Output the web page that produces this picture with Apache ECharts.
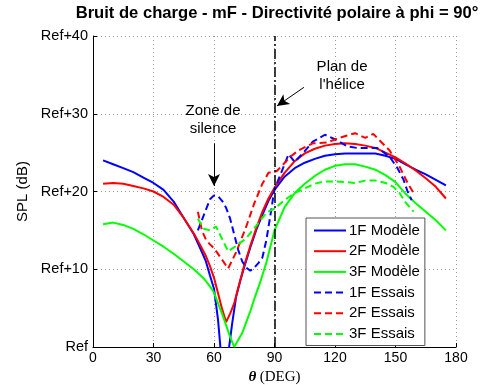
<!DOCTYPE html>
<html><head><meta charset="utf-8">
<script src="https://cdn.jsdelivr.net/npm/echarts@6/dist/echarts.min.js"></script>
<style>html,body{margin:0;padding:0;background:#fff}#c{width:483px;height:385px}</style>
</head><body><div id="c"></div><script>
// ---- data ----
var xTicks = [0, 30, 60, 90, 120, 150, 180];
var yTickLabels = ['Ref', 'Ref+10', 'Ref+20', 'Ref+30', 'Ref+40'];

var theta1FModele = [5,10,15,20,25,30,35,40,45,50,53,56,58,60,61,62,63,64,66,67.5,69,71,73,75,78,81,84,87,90,95,100,105,110,115,120,125,130,135,140,145,150,155,160,165,170,175];
var spl1FModele   = [24.0,23.5,23.0,22.5,21.8,21.1,20.2,18.7,16.6,14.5,12.8,11.0,9.2,7.5,5.5,3.5,0.5,-3,-3,0,3,6.5,8.5,10.3,12.8,15.1,17.0,18.8,20.2,21.9,23.0,23.7,24.2,24.6,24.8,24.9,24.9,24.9,24.9,24.6,24.2,23.5,22.8,22.2,21.5,20.8];

var theta2FModele = [5,10,15,20,25,30,35,40,45,50,53,56,58,60,62,64,66,68,70,72,75,78,81,84,87,90,95,100,105,110,115,120,125,130,135,140,145,150,155,160,165,170,175];
var spl2FModele   = [21.0,21.1,21.0,20.7,20.4,20.0,19.3,18.3,16.6,14.6,13.2,11.7,10.4,8.9,6.9,4.9,3.2,4.3,5.6,7.6,10.5,13.0,15.3,17.4,19.1,20.5,22.4,23.9,24.9,25.5,25.9,26.1,26.2,26.1,25.9,25.6,25.0,24.4,23.6,22.7,21.7,20.6,19.1];

var theta3FModele = [5,10,15,20,25,30,35,40,45,50,55,58,60,62,64,66,68,70,72,74,76,78,80,83,86,90,95,100,105,110,115,120,125,130,135,140,145,150,155,160,165,170,175];
var spl3FModele   = [15.8,16.0,15.7,15.2,14.5,13.7,12.9,12.0,11.0,10.0,8.8,7.8,7.0,5.6,4.3,2.8,1.3,0.0,0.9,1.8,3.2,4.6,6.2,8.4,10.9,15.0,18.0,19.8,21.0,22.0,22.8,23.3,23.5,23.5,23.2,22.8,22.1,21.2,19.7,18.5,17.4,16.3,15.0];

var theta1FEssais = [52,55,58,60,62,64,66,68,70,72,74,76,78,80,82,84,86,88,90,93,97,100,104,109,115,121,126,131,136,141,147,151,154,156,158];
var spl1FEssais   = [15.0,17.0,19.0,19.5,19.4,18.8,17.9,16.5,14.5,12.5,11.0,10.2,9.8,10.2,10.8,11.5,13.8,17.0,20.3,22.2,24.8,23.8,24.9,26.4,27.3,26.6,25.8,25.6,25.6,25.6,24.5,23.0,21.5,20.0,18.9];

var theta2FEssais = [52,54,56,58,60,63,67,71,76,80,84,87,91,94,98,102,109,116,121,126,130,135,139,142,147,152,156,159];
var spl2FEssais   = [17.4,15.0,13.8,13.2,12.7,11.6,10.1,12.2,15.5,18.5,21.0,22.4,22.6,23.4,24.5,25.3,26.2,26.3,26.8,27.2,27.5,26.9,27.4,26.6,25.3,23.2,21.1,19.8];

var theta3FEssais = [52,55,58,61,64,67,71,76,81,86,90,95,100,105,110,115,121,126,130,135,140,145,149,152,155,159];
var spl3FEssais   = [16.5,15.2,15.0,15.5,13.9,12.3,13.0,14.0,15.6,17.3,17.8,18.9,19.8,20.4,21.0,21.3,21.3,21.2,21.1,21.4,21.4,21.1,20.6,19.8,18.6,17.4];

var names = ['1F Modèle','2F Modèle','3F Modèle','1F Essais','2F Essais','3F Essais'];
var colors = ['#0000ff','#ff0000','#00ff00','#0000ff','#ff0000','#00ff00'];
var thetas = [theta1FModele, theta2FModele, theta3FModele, theta1FEssais, theta2FEssais, theta3FEssais];
var spls = [spl1FModele, spl2FModele, spl3FModele, spl1FEssais, spl2FEssais, spl3FEssais];

function pairs(xs, ys) { return xs.map(function (x, i) { return [x, ys[i]]; }); }

var FONT = 'Liberation Sans, Arial, sans-serif';
var chart = echarts.init(document.getElementById('c'), null, {renderer: 'canvas'});

var series = names.map(function (n, i) {
  return {
    name: n, type: 'line', data: pairs(thetas[i], spls[i]),
    symbol: 'none', clip: true, z: 3,
    lineStyle: {color: colors[i], width: 2, type: i >= 3 ? [7, 4] : 'solid'},
    itemStyle: {color: colors[i]}
  };
});

series.push({
  name: 'annot', type: 'line', data: [], silent: true, z: 4,
  markLine: {
    silent: true, animation: false, symbol: 'none',
    label: {show: false},
    data: [
      [{coord: [90, 0], lineStyle: {color: '#000', width: 1.5, type: [10, 3, 2, 3]}}, {coord: [90, 40]}],
      [{coord: [60, 26.2], symbol: 'none', lineStyle: {color: '#000', width: 1, type: 'solid'}}, {coord: [60, 20.7], symbol: 'arrow', symbolSize: [9, 12]}],
      [{coord: [104.6, 33.4], symbol: 'none', lineStyle: {color: '#000', width: 1, type: 'solid'}}, {coord: [91.2, 31.0], symbol: 'arrow', symbolSize: [9, 12]}]
    ]
  }
});

chart.setOption({
  animation: false,
  backgroundColor: '#fff',
  title: {
    text: 'Bruit de charge - mF - Directivité polaire à phi = 90°',
    left: 272, textAlign: 'center', top: 0,
    textStyle: {fontFamily: FONT, fontSize: 16.6, fontWeight: 'bold', color: '#000'}
  },
  grid: {left: 93, right: 27, top: 36, bottom: 38, containLabel: false, outerBoundsMode: 'none'},
  legend: {
    data: names, orient: 'vertical', left: 306, top: 218,
    itemWidth: 32, itemHeight: 14, itemGap: 5.7,
    padding: [5, 5, 4, 7],
    backgroundColor: '#fff', borderColor: '#555', borderWidth: 1,
    itemStyle: {opacity: 0},
    textStyle: {fontFamily: FONT, fontSize: 15, color: '#000', padding: [0, 0, 0, -2]},
    selectedMode: false
  },
  xAxis: {
    type: 'value', min: 0, max: 180, interval: 30,
    name: '{t|θ} {d|(DEG)}', nameLocation: 'middle', nameGap: 20,
    nameTextStyle: {rich: {
      t: {fontFamily: 'Liberation Serif, DejaVu Serif, serif', fontStyle: 'italic', fontWeight: 'bold', fontSize: 15, color: '#000'},
      d: {fontFamily: 'Liberation Serif, DejaVu Serif, serif', fontSize: 15, color: '#000'}
    }},
    axisLine: {show: true, onZero: false, lineStyle: {color: '#000', width: 1}},
    axisTick: {show: true, inside: true, length: 4, lineStyle: {color: '#000'}},
    axisLabel: {fontFamily: FONT, fontSize: 14, color: '#000', margin: 4,
      formatter: function (v) { return xTicks.indexOf(v) >= 0 ? String(v) : ''; }},
    splitLine: {show: true, lineStyle: {color: '#999', type: [1, 3], width: 1}}
  },
  yAxis: {
    type: 'value', min: 0, max: 40, interval: 10,
    name: 'SPL (dB)', nameLocation: 'middle', nameGap: 58,
    nameTextStyle: {fontFamily: FONT, fontSize: 15, color: '#000'},
    axisLine: {show: true, onZero: false, lineStyle: {color: '#000', width: 1}},
    axisTick: {show: true, inside: true, length: 4, lineStyle: {color: '#000'}},
    axisLabel: {fontFamily: FONT, fontSize: 14.5, color: '#000', margin: 5,
      formatter: function (v) { return yTickLabels[Math.round(v / 10)]; }},
    splitLine: {show: true, lineStyle: {color: '#999', type: [1, 3], width: 1}}
  },
  series: series
});

// text annotations positioned in data coordinates
function txt(coord, lines) {
  var p = chart.convertToPixel({gridIndex: 0}, coord);
  return {type: 'text', x: p[0], y: p[1], z: 10,
    style: {text: lines, fill: '#000', font: '15px ' + FONT, align: 'center', verticalAlign: 'middle', lineHeight: 18}};
}
chart.setOption({graphic: [
  txt([59.5, 29.2], 'Zone de\nsilence'),
  txt([123.5, 34.9], 'Plan de\nl\'hélice')
]});
</script></body></html>
